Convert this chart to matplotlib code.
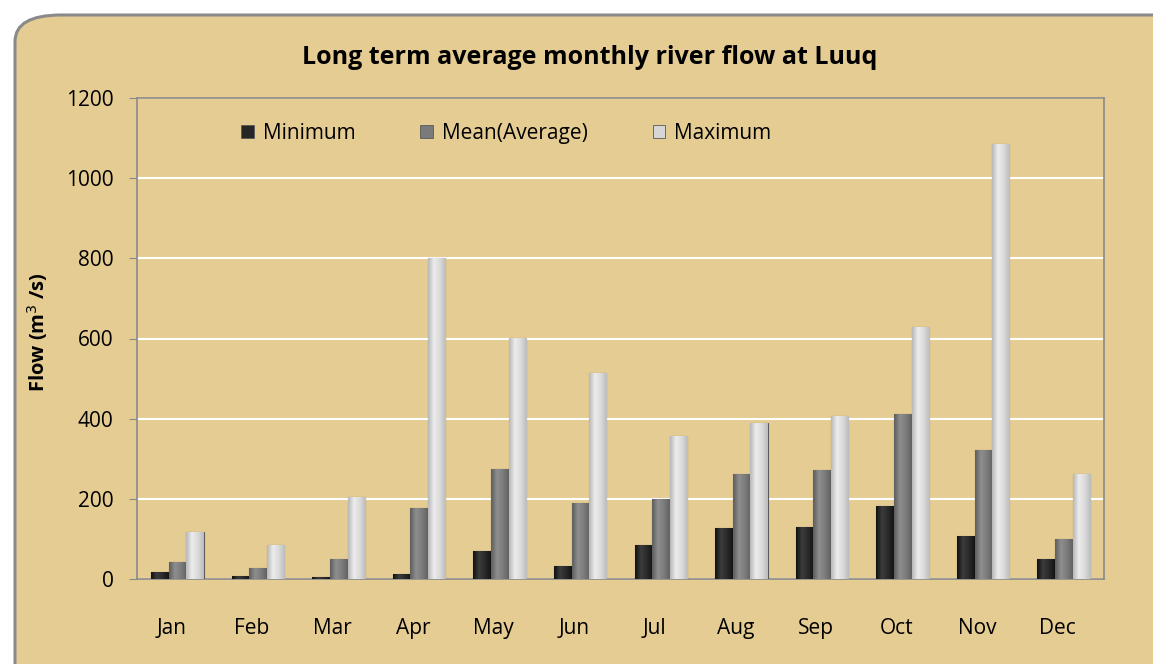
import matplotlib
matplotlib.use("Agg")
import matplotlib.pyplot as plt
import matplotlib.transforms as mtransforms
import numpy as np
from matplotlib.patches import FancyBboxPatch, Patch
from matplotlib.colors import LinearSegmentedColormap

months = ["Jan", "Feb", "Mar", "Apr", "May", "Jun", "Jul", "Aug", "Sep", "Oct", "Nov", "Dec"]
minimum = [17, 7, 5, 12, 70, 32, 85, 127, 130, 182, 107, 50]
mean = [43, 27, 50, 177, 275, 190, 199, 262, 272, 412, 322, 100]
maximum = [117, 85, 205, 800, 602, 515, 357, 390, 407, 628, 1085, 262]
series_names = ["Minimum", "Mean(Average)", "Maximum"]
yticks = [0, 200, 400, 600, 800, 1000, 1200]

plt.rcParams['font.family'] = ['Open Sans', 'DejaVu Sans']

W, H = 1153, 664
fig = plt.figure(figsize=(W / 100, H / 100), dpi=100)
fig.patch.set_facecolor("white")
bg = "#e5cc93"
frame = FancyBboxPatch((15 / W, -0.05), 1.2, 1.05 - 15 / H,
                       boxstyle="round,pad=0,rounding_size=0.04",
                       transform=fig.transFigure, facecolor=bg,
                       edgecolor="#8a8a8a", linewidth=2.2, zorder=-5)
fig.patches.append(frame)

ax = fig.add_axes([137 / W, 1 - 579 / H, 967 / W, 481 / H])
ax.set_zorder(2)
ax.set_facecolor("none")

x = np.arange(len(months))
w = 0.213
gap = 0.006
styles = [
    ("#262626", ["#111111", "#3c3c3c", "#2a2a2a", "#151515"]),
    ("#7a7a7a", ["#5e5e5e", "#8e8e8e", "#7c7c7c", "#626262"]),
    ("#d6d6d6", ["#b8b8b8", "#ececec", "#dadada", "#bcbcbc"]),
]
data = [minimum, mean, maximum]
for i, (vals, (col, grad)) in enumerate(zip(data, styles)):
    offs = (i - 1) * (w + gap)
    bars = ax.bar(x + offs, vals, width=w, color=col, edgecolor="#5a5a5a",
                  linewidth=0.8, zorder=3)
    cmap = LinearSegmentedColormap.from_list("g%d" % i, grad)
    g = np.linspace(0, 1, 64).reshape(1, -1)
    for b in bars:
        x0, h = b.get_x(), b.get_height()
        im = ax.imshow(g, extent=[x0, x0 + b.get_width(), 0, h], aspect="auto",
                       cmap=cmap, zorder=3.5, interpolation="bilinear")
        im.set_clip_path(b)

ax.set_xlim(-0.5, len(months) - 0.5)
ax.set_ylim(0, 1200)
ax.set_yticks(yticks)
ax.set_yticklabels([str(t) for t in yticks], fontsize=15)
ax.set_xticks(x)
ax.set_xticklabels(months, fontsize=15)
ax.tick_params(axis="x", length=0, pad=28)
ax.tick_params(axis="y", length=6, color="#8a8a8a", pad=11)
shift = mtransforms.ScaledTranslation(-6 / 100, 0, fig.dpi_scale_trans)
for lab in ax.get_xticklabels():
    lab.set_transform(lab.get_transform() + shift)
for s in ax.spines.values():
    s.set_color("#8a8a8a")
    s.set_linewidth(1.2)
ax.yaxis.grid(True, color="white", linewidth=1.5, zorder=1)
ax.set_axisbelow(True)

fig.text(38 / W, 1 - 332 / H, "Flow (m$^3$ /s)", rotation=90, ha="center", va="center",
         fontsize=14.5, fontweight="bold")
fig.text(590 / W, 1 - 58 / H, "Long term average monthly river flow at Luuq",
         ha="center", va="center", fontsize=18, fontweight="bold")

handles = [Patch(facecolor=styles[k][0], edgecolor="#5a5a5a", linewidth=0.6) for k in range(3)]
ax.legend(handles, series_names, loc="center", bbox_to_anchor=(0.382, 0.927),
          ncol=3, frameon=False, fontsize=15, handlelength=0.6, handleheight=0.6,
          handletextpad=0.45, columnspacing=3.1)

fig.savefig("out.png", dpi=100, facecolor=fig.get_facecolor())
